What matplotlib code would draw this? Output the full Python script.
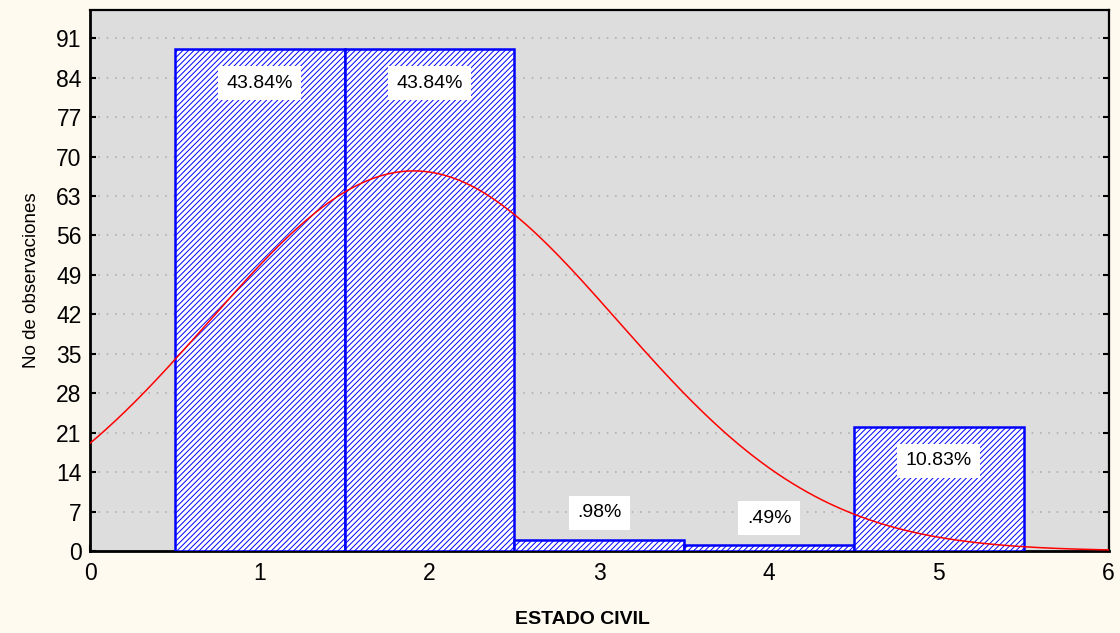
import numpy as np
import matplotlib.pyplot as plt

plt.rcParams['font.family'] = ['Liberation Sans', 'DejaVu Sans']

# data
categories = [1, 2, 3, 4, 5]
counts = [89, 89, 2, 1, 22]
pct_labels = ['43.84%', '43.84%', '.98%', '.49%', '10.83%']
y_ticks = list(range(0, 92, 7))
x_ticks = [0, 1, 2, 3, 4, 5, 6]


def main():
    fig = plt.figure(figsize=(11.2, 6.33), dpi=100, facecolor='#fffaf0')
    ax = fig.add_axes([0.0804, 0.1295, 0.9094, 0.8547])
    ax.set_facecolor('#dddddd')

    plt.rcParams['hatch.linewidth'] = 0.7
    ax.bar(categories, counts, width=1.0, color='white', edgecolor='#0000ff',
           hatch='//////', linewidth=1.8, zorder=3)

    # fitted normal curve, from the data
    vals = np.repeat(categories, counts)
    mu = vals.mean()
    sd = vals.std(ddof=1)
    n = len(vals)
    xs = np.linspace(0, 6, 400)
    ys = n * 1.0 / (sd * np.sqrt(2 * np.pi)) * np.exp(-0.5 * ((xs - mu) / sd) ** 2)
    ax.plot(xs, ys, color='red', lw=1.1, zorder=4)

    for c, h, lab in zip(categories, counts, pct_labels):
        ly = h - 6 if h > 10 else h + 4.8
        ax.text(c, ly, lab, ha='center', va='center', fontsize=14, zorder=5,
                bbox=dict(facecolor='white', edgecolor='none', pad=6))

    ax.set_xlim(0, 6)
    ax.set_ylim(0, 96)
    ax.set_xticks(x_ticks)
    ax.set_yticks(y_ticks)
    ax.tick_params(axis='both', labelsize=16.5, direction='in', length=4, width=1.5)
    ax.tick_params(axis='y', right=True, pad=6)
    ax.tick_params(axis='x', pad=8)
    ax.yaxis.grid(True, linestyle=(0, (1, 4)), color='#b0b0b0', lw=1.2, zorder=1)
    ax.set_axisbelow(True)

    for side in ['left', 'bottom']:
        ax.spines[side].set_linewidth(2)
    for side in ['top', 'right']:
        ax.spines[side].set_linewidth(1.6)

    ax.set_ylabel('No de observaciones', fontsize=13.5, labelpad=12)
    fig.text(0.52, 0.022, 'ESTADO CIVIL', fontsize=14, fontweight='bold',
             ha='center', va='center')

    plt.savefig('out.png', dpi=100, facecolor=fig.get_facecolor())


if __name__ == '__main__':
    main()
